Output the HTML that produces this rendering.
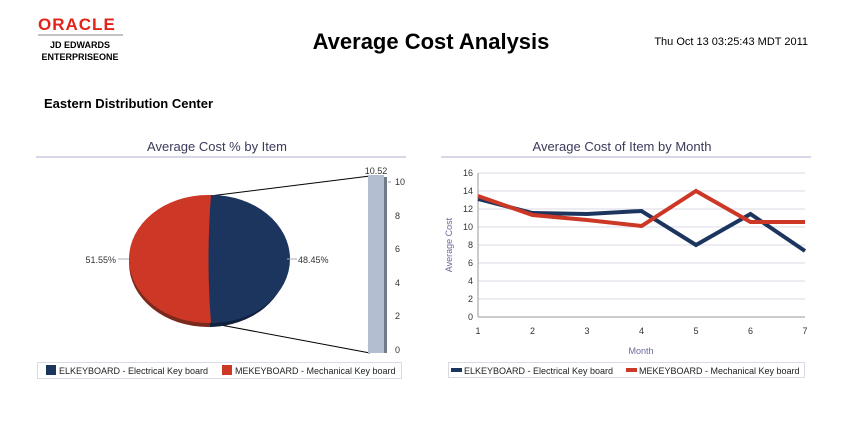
<!DOCTYPE html>
<html><head><meta charset="utf-8"><style>
body{margin:0;background:#fff;width:850px;height:424px;overflow:hidden;font-family:"Liberation Sans",sans-serif}
</style></head><body>
<svg width="850" height="424" xmlns="http://www.w3.org/2000/svg" font-family="Liberation Sans, sans-serif">
<text x="38" y="30" font-size="17" font-weight="bold" fill="#e2231a" letter-spacing="1">ORACLE</text>
<line x1="38" y1="35" x2="123" y2="35" stroke="#888" stroke-width="1"/>
<text x="80" y="48" font-size="9" font-weight="bold" text-anchor="middle">JD EDWARDS</text>
<text x="80" y="60" font-size="9" font-weight="bold" text-anchor="middle">ENTERPRISEONE</text>
<text x="431" y="49" font-size="22" font-weight="bold" text-anchor="middle">Average Cost Analysis</text>
<text x="808" y="45" font-size="11" text-anchor="end">Thu Oct 13 03:25:43 MDT 2011</text>
<text x="44" y="108" font-size="13" font-weight="bold">Eastern Distribution Center</text>

<text x="217" y="151" font-size="13" fill="#3a3a5a" text-anchor="middle">Average Cost % by Item</text>
<line x1="36" y1="157" x2="406" y2="157" stroke="#c8cbe0" stroke-width="1.5"/>
<line x1="210" y1="196" x2="370" y2="176" stroke="#000"/>
<line x1="210" y1="323" x2="370" y2="353" stroke="#000"/>
<ellipse cx="208" cy="263" rx="79" ry="64" fill="#7a2a1c"/>
<path d="M210 327 A79 64 0 0 0 287 263 L287 259 A79 64 0 0 1 210 323Z" fill="#0f2240"/>
<ellipse cx="208" cy="259" rx="79" ry="64" fill="#cc3726"/>
<path d="M211 195 A79 64 0 0 1 211 323 Q206 260 211 195Z" fill="#1c355f"/>
<line x1="118" y1="259" x2="129" y2="259" stroke="#aab"/>
<line x1="287" y1="259" x2="297" y2="259" stroke="#aab"/>
<text x="116" y="263" font-size="9" fill="#333" text-anchor="end">51.55%</text>
<text x="298" y="263" font-size="9" fill="#333">48.45%</text>
<rect x="368" y="175" width="16" height="178" fill="#b3bfd1"/>
<rect x="384" y="177" width="3" height="176" fill="#707a88"/>
<text x="376" y="174" font-size="9" fill="#333" text-anchor="middle">10.52</text>
<g font-size="9" fill="#333">
<line x1="388" y1="182" x2="391" y2="182" stroke="#999"/><text x="395" y="185">10</text>
<text x="395" y="219">8</text><text x="395" y="252">6</text><text x="395" y="286">4</text><text x="395" y="319">2</text><text x="395" y="353">0</text>
</g>
<rect x="37.5" y="362.5" width="364" height="16" fill="#fff" stroke="#d8dae8"/>
<rect x="46" y="365" width="10" height="10" fill="#1c355f"/>
<text x="59" y="374" font-size="9" fill="#222">ELKEYBOARD - Electrical Key board</text>
<rect x="222" y="365" width="10" height="10" fill="#cc3726"/>
<text x="235" y="374" font-size="9" fill="#222">MEKEYBOARD - Mechanical Key board</text>

<text x="622" y="151" font-size="13" fill="#3a3a5a" text-anchor="middle">Average Cost of Item by Month</text>
<line x1="441" y1="157" x2="811" y2="157" stroke="#c8cbe0" stroke-width="1.5"/>
<g stroke="#d8dae6" stroke-width="1">
<line x1="478" y1="173" x2="805" y2="173"/><line x1="478" y1="191" x2="805" y2="191"/><line x1="478" y1="209" x2="805" y2="209"/><line x1="478" y1="227" x2="805" y2="227"/><line x1="478" y1="245" x2="805" y2="245"/><line x1="478" y1="263" x2="805" y2="263"/><line x1="478" y1="281" x2="805" y2="281"/><line x1="478" y1="299" x2="805" y2="299"/>
</g>
<line x1="478" y1="173" x2="478" y2="317" stroke="#999"/>
<line x1="478" y1="317" x2="805" y2="317" stroke="#999"/>
<g font-size="9" fill="#333" text-anchor="end">
<text x="473" y="176">16</text><text x="473" y="194">14</text><text x="473" y="212">12</text><text x="473" y="230">10</text><text x="473" y="248">8</text><text x="473" y="266">6</text><text x="473" y="284">4</text><text x="473" y="302">2</text><text x="473" y="320">0</text>
</g>
<g font-size="9" fill="#333" text-anchor="middle">
<text x="478" y="334">1</text><text x="532.5" y="334">2</text><text x="587" y="334">3</text><text x="641.5" y="334">4</text><text x="696" y="334">5</text><text x="750.5" y="334">6</text><text x="805" y="334">7</text>
</g>
<text x="641" y="354" font-size="9" fill="#6a6a9a" text-anchor="middle">Month</text>
<text transform="translate(452,245) rotate(-90)" font-size="9" fill="#6a6a9a" text-anchor="middle">Average Cost</text>
<polyline points="478,199 532.5,213 587,214 641.5,211 696,245 750.5,214 805,251" fill="none" stroke="#1c355f" stroke-width="4" stroke-linejoin="miter"/>
<polyline points="478,196 532.5,215 587,220 641.5,226 696,191 750.5,222 805,222" fill="none" stroke="#cc3726" stroke-width="4"/>
<rect x="448.5" y="362.5" width="356" height="15" fill="#fff" stroke="#d8dae8"/>
<rect x="451" y="368" width="11" height="4" fill="#1c355f"/>
<text x="464" y="374" font-size="9" fill="#222">ELKEYBOARD - Electrical Key board</text>
<rect x="626" y="368" width="11" height="4" fill="#cc3726"/>
<text x="639" y="374" font-size="9" fill="#222">MEKEYBOARD - Mechanical Key board</text>
</svg>
</body></html>
